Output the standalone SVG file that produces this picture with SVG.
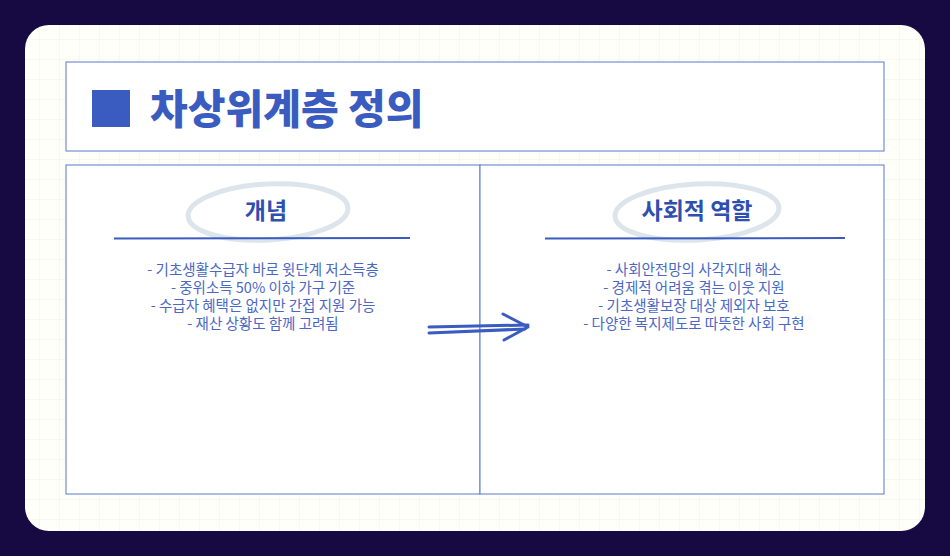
<svg xmlns="http://www.w3.org/2000/svg" width="950" height="556" viewBox="0 0 950 556">
<defs>
<style>
.t{font-family:"Noto Sans CJK KR","Noto Sans",sans-serif;fill:#3a5bbf}
.b{font-size:14.5px;fill:#4a68c4;text-anchor:middle}
.h{font-size:23px;font-weight:bold;text-anchor:middle;fill:#2f4fb0}
.box{fill:#fff;stroke:#5a78c8;stroke-width:1}
</style>
<pattern id="g" width="20" height="20" patternUnits="userSpaceOnUse"><path d="M20 0V20H0" fill="none" stroke="#f1f1e6" stroke-width="1"/></pattern>
</defs>
<rect width="950" height="556" fill="#170a42"/>
<rect x="25" y="25" width="900" height="506" rx="24" fill="#fffffa"/>
<rect x="25" y="25" width="900" height="506" rx="24" fill="url(#g)"/>
<g id="title">
<rect class="box" x="66" y="62" width="818" height="89"/>
<rect x="92" y="90" width="38" height="37" fill="#3a5bbf"/>
<text class="t" x="150" y="124" font-size="41" font-weight="900" fill="#3a5bbf">차상위계층 정의</text>
</g>
<g id="concept">
<rect class="box" x="66" y="165" width="414" height="329"/>
<ellipse cx="268" cy="212" rx="80" ry="28" fill="none" stroke="#dce4ec" stroke-width="5" transform="rotate(-3 268 212)"/>
<text class="t h" x="266" y="219">개념</text>
<path d="M114 238.5 L410 238" stroke="#3a5bbf" stroke-width="2"/>
<text class="t b" x="263" y="275">- 기초생활수급자 바로 윗단계 저소득층</text>
<text class="t b" x="263" y="293">- 중위소득 50% 이하 가구 기준</text>
<text class="t b" x="263" y="311">- 수급자 혜택은 없지만 간접 지원 가능</text>
<text class="t b" x="263" y="329">- 재산 상황도 함께 고려됨</text>
</g>
<g id="role">
<rect class="box" x="480" y="165" width="404" height="329"/>
<ellipse cx="697" cy="212" rx="82" ry="28" fill="none" stroke="#dce4ec" stroke-width="5" transform="rotate(-3 697 212)"/>
<text class="t h" x="697" y="219">사회적 역할</text>
<path d="M545 238.5 L845 238" stroke="#3a5bbf" stroke-width="2"/>
<text class="t b" x="694" y="275">- 사회안전망의 사각지대 해소</text>
<text class="t b" x="694" y="293">- 경제적 어려움 겪는 이웃 지원</text>
<text class="t b" x="694" y="311">- 기초생활보장 대상 제외자 보호</text>
<text class="t b" x="694" y="329">- 다양한 복지제도로 따뜻한 사회 구현</text>
</g>
<g id="connectors" fill="none" stroke="#3a5bbf" stroke-width="3" stroke-linecap="round" stroke-linejoin="round">
<path d="M429 327 L528 325 M429 333 L525 329"/>
<path d="M503 314 L528 327 L504 340"/>
</g>
</svg>
